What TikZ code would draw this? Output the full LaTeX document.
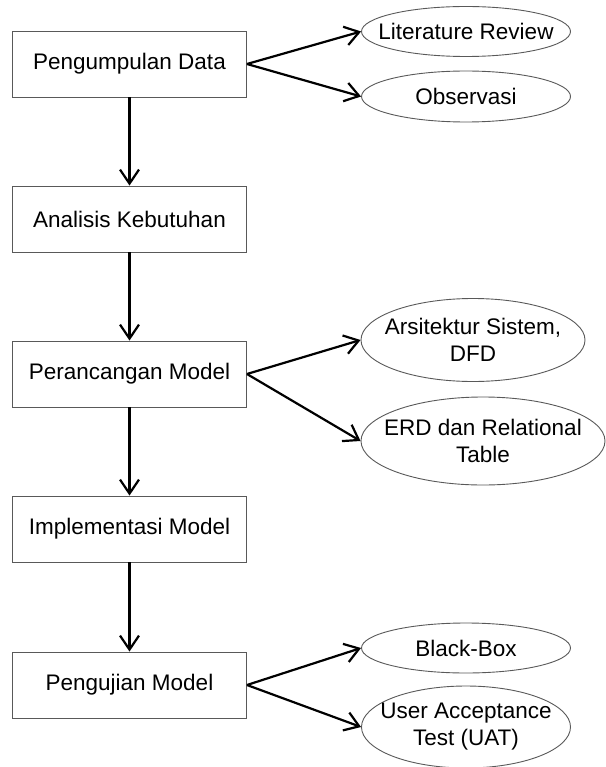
\documentclass[tikz,border=0pt]{standalone}
\usepackage{fontspec}
\setmainfont{Liberation Sans}
\usetikzlibrary{shapes.geometric,arrows.meta}
\tikzset{
  procbox/.style={draw=black!65, line width=0.9pt, fill=white, minimum width=234pt, minimum height=66pt, inner sep=0pt, font=\fontsize{22.5}{27}\selectfont},
  outell/.style={ellipse, draw=black!65, line width=0.9pt, fill=white, inner sep=0pt},
  elltext/.style={inner sep=0pt, align=center, font=\fontsize{22.5}{27}\selectfont},
  flow/.style={line width=2.2pt, -{Straight Barb[length=14pt,width=19pt,line width=2.2pt]}}
}
\begin{document}
\begin{tikzpicture}[x=1pt,y=-1pt]
\useasboundingbox (0,0) rectangle (605,767);
\node[procbox] (b1) at (129.5,64) {Pengumpulan Data};
\node[procbox] (b2) at (129.5,219) {Analisis Kebutuhan};
\node[procbox] (b3) at (129.5,374) {Perancangan Model};
\node[procbox] (b4) at (129.5,529) {Implementasi Model};
\node[procbox] (b5) at (129.5,685) {Pengujian Model};

\node[outell, minimum width=209pt, minimum height=50pt] (e1) at (466,31.5) {};
\node[elltext] (t1) at (e1) {Literature Review};
\node[outell, minimum width=209pt, minimum height=51pt] (e2) at (466,96.5) {};
\node[elltext] (t2) at (e2) {Observasi};
\node[outell, minimum width=224pt, minimum height=83pt] (e3) at (473,340) {};
\node[elltext] (t3) at (e3) {Arsitektur Sistem,\\DFD};
\node[outell, minimum width=244pt, minimum height=88pt] (e4) at (483,441) {};
\node[elltext] (t4) at (e4) {ERD dan Relational\\Table};
\node[outell, minimum width=209pt, minimum height=50pt] (e5) at (466,648) {};
\node[elltext] (t5) at (e5) {Black-Box};
\node[outell, minimum width=209pt, minimum height=82pt] (e6) at (466,727) {};
\node[elltext] (t6) at (e6) {User Acceptance\\Test (UAT)};

\draw[flow] (b1) -- (b2);
\draw[flow] (b2) -- (b3);
\draw[flow] (b3) -- (b4);
\draw[flow] (b4) -- (b5);
\draw[flow] (b1.east) -- (e1.west);
\draw[flow] (b1.east) -- (e2.west);
\draw[flow] (b3.east) -- (e3.west);
\draw[flow] (b3.east) -- (e4.west);
\draw[flow] (b5.east) -- (e5.west);
\draw[flow] (b5.east) -- (e6.west);
\end{tikzpicture}
\end{document}
